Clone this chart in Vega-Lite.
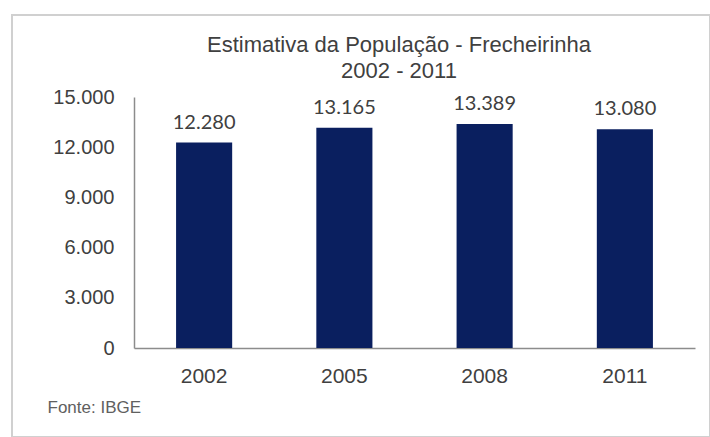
{
  "$schema": "https://vega.github.io/schema/vega-lite/v6.json",
  "autosize": "none",
  "width": 698,
  "height": 422,
  "padding": {"left": 12, "top": 15, "right": 0, "bottom": 0},
  "background": "white",
  "title": {
    "text": ["Estimativa da População - Frecheirinha", "2002 - 2011"],
    "frame": "group",
    "anchor": "middle",
    "dx": 38,
    "offset": -68,
    "baseline": "top",
    "lineHeight": 26,
    "font": "Liberation Sans",
    "fontSize": 22,
    "fontWeight": "normal",
    "color": "#404040"
  },
  "data": {
    "values": [
      {"ano": "2002", "populacao": 12280},
      {"ano": "2005", "populacao": 13165},
      {"ano": "2008", "populacao": 13389},
      {"ano": "2011", "populacao": 13080}
    ]
  },
  "encoding": {
    "x": {
      "field": "ano",
      "type": "ordinal",
      "scale": {"type": "band", "range": [122, 683], "paddingInner": 0.6, "paddingOuter": 0.3},
      "axis": {
        "title": "Fonte: IBGE",
        "titleX": 35,
        "titleY": 59,
        "titleAlign": "left",
        "titleBaseline": "middle",
        "titleFont": "Liberation Sans",
        "titleFontSize": 17,
        "titleFontWeight": "normal",
        "titleColor": "#606060",
        "offset": -89,
        "labelAngle": 0,
        "labelFontSize": 21,
        "labelPadding": 17,
        "labelBaseline": "top"
      }
    },
    "y": {
      "field": "populacao",
      "type": "quantitative",
      "scale": {"domain": [0, 15000], "range": [333, 82], "nice": false, "zero": true},
      "axis": {
        "title": null,
        "offset": -122,
        "values": [0, 3000, 6000, 9000, 12000, 15000],
        "labelExpr": "replace(format(datum.value, ',.0f'), ',', '.')",
        "labelFontSize": 20,
        "labelPadding": 20
      }
    }
  },
  "layer": [
    {"mark": {"type": "bar", "color": "#0a1f5f"}},
    {
      "mark": {"type": "text", "baseline": "bottom", "dy": -10, "font": "Lato", "fontSize": 20, "color": "#404040"},
      "encoding": {"text": {"field": "populacao", "type": "quantitative", "format": ","}}
    }
  ],
  "config": {
    "locale": {"number": {"decimal": ",", "thousands": ".", "grouping": [3], "currency": ["R$", ""]}},
    "view": {"stroke": "#d0d0d0", "strokeWidth": 2},
    "axis": {
      "grid": false,
      "ticks": false,
      "tickSize": 0,
      "domainColor": "#8c8c8c",
      "domainWidth": 1.5,
      "labelFont": "Liberation Sans",
      "labelColor": "#404040"
    }
  }
}
